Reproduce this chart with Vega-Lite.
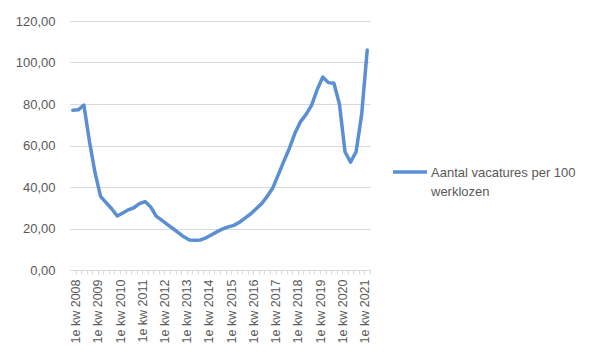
{
  "$schema": "https://vega.github.io/schema/vega-lite/v6.json",
  "width": 300,
  "height": 249,
  "autosize": {"type": "none"},
  "padding": {"left": 70, "top": 21, "right": 229, "bottom": 92},
  "background": "white",
  "config": {"view": {"stroke": null}, "font": "Liberation Sans"},
  "data": {"values": [
    {"kwartaal": "1e kw 2008", "waarde": 77, "reeks": "Aantal vacatures per 100 werklozen"},
    {"kwartaal": "2e kw 2008", "waarde": 77.2, "reeks": "Aantal vacatures per 100 werklozen"},
    {"kwartaal": "3e kw 2008", "waarde": 79.5, "reeks": "Aantal vacatures per 100 werklozen"},
    {"kwartaal": "4e kw 2008", "waarde": 62, "reeks": "Aantal vacatures per 100 werklozen"},
    {"kwartaal": "1e kw 2009", "waarde": 47, "reeks": "Aantal vacatures per 100 werklozen"},
    {"kwartaal": "2e kw 2009", "waarde": 35.5, "reeks": "Aantal vacatures per 100 werklozen"},
    {"kwartaal": "3e kw 2009", "waarde": 32.5, "reeks": "Aantal vacatures per 100 werklozen"},
    {"kwartaal": "4e kw 2009", "waarde": 29.5, "reeks": "Aantal vacatures per 100 werklozen"},
    {"kwartaal": "1e kw 2010", "waarde": 26, "reeks": "Aantal vacatures per 100 werklozen"},
    {"kwartaal": "2e kw 2010", "waarde": 27.5, "reeks": "Aantal vacatures per 100 werklozen"},
    {"kwartaal": "3e kw 2010", "waarde": 29, "reeks": "Aantal vacatures per 100 werklozen"},
    {"kwartaal": "4e kw 2010", "waarde": 30, "reeks": "Aantal vacatures per 100 werklozen"},
    {"kwartaal": "1e kw 2011", "waarde": 32, "reeks": "Aantal vacatures per 100 werklozen"},
    {"kwartaal": "2e kw 2011", "waarde": 33, "reeks": "Aantal vacatures per 100 werklozen"},
    {"kwartaal": "3e kw 2011", "waarde": 30.5, "reeks": "Aantal vacatures per 100 werklozen"},
    {"kwartaal": "4e kw 2011", "waarde": 26, "reeks": "Aantal vacatures per 100 werklozen"},
    {"kwartaal": "1e kw 2012", "waarde": 24, "reeks": "Aantal vacatures per 100 werklozen"},
    {"kwartaal": "2e kw 2012", "waarde": 22, "reeks": "Aantal vacatures per 100 werklozen"},
    {"kwartaal": "3e kw 2012", "waarde": 20, "reeks": "Aantal vacatures per 100 werklozen"},
    {"kwartaal": "4e kw 2012", "waarde": 18, "reeks": "Aantal vacatures per 100 werklozen"},
    {"kwartaal": "1e kw 2013", "waarde": 16, "reeks": "Aantal vacatures per 100 werklozen"},
    {"kwartaal": "2e kw 2013", "waarde": 14.5, "reeks": "Aantal vacatures per 100 werklozen"},
    {"kwartaal": "3e kw 2013", "waarde": 14.3, "reeks": "Aantal vacatures per 100 werklozen"},
    {"kwartaal": "4e kw 2013", "waarde": 14.5, "reeks": "Aantal vacatures per 100 werklozen"},
    {"kwartaal": "1e kw 2014", "waarde": 15.5, "reeks": "Aantal vacatures per 100 werklozen"},
    {"kwartaal": "2e kw 2014", "waarde": 17, "reeks": "Aantal vacatures per 100 werklozen"},
    {"kwartaal": "3e kw 2014", "waarde": 18.5, "reeks": "Aantal vacatures per 100 werklozen"},
    {"kwartaal": "4e kw 2014", "waarde": 19.8, "reeks": "Aantal vacatures per 100 werklozen"},
    {"kwartaal": "1e kw 2015", "waarde": 20.8, "reeks": "Aantal vacatures per 100 werklozen"},
    {"kwartaal": "2e kw 2015", "waarde": 21.5, "reeks": "Aantal vacatures per 100 werklozen"},
    {"kwartaal": "3e kw 2015", "waarde": 23, "reeks": "Aantal vacatures per 100 werklozen"},
    {"kwartaal": "4e kw 2015", "waarde": 25, "reeks": "Aantal vacatures per 100 werklozen"},
    {"kwartaal": "1e kw 2016", "waarde": 27, "reeks": "Aantal vacatures per 100 werklozen"},
    {"kwartaal": "2e kw 2016", "waarde": 29.5, "reeks": "Aantal vacatures per 100 werklozen"},
    {"kwartaal": "3e kw 2016", "waarde": 32, "reeks": "Aantal vacatures per 100 werklozen"},
    {"kwartaal": "4e kw 2016", "waarde": 35.5, "reeks": "Aantal vacatures per 100 werklozen"},
    {"kwartaal": "1e kw 2017", "waarde": 39.5, "reeks": "Aantal vacatures per 100 werklozen"},
    {"kwartaal": "2e kw 2017", "waarde": 46, "reeks": "Aantal vacatures per 100 werklozen"},
    {"kwartaal": "3e kw 2017", "waarde": 52.5, "reeks": "Aantal vacatures per 100 werklozen"},
    {"kwartaal": "4e kw 2017", "waarde": 58.7, "reeks": "Aantal vacatures per 100 werklozen"},
    {"kwartaal": "1e kw 2018", "waarde": 66, "reeks": "Aantal vacatures per 100 werklozen"},
    {"kwartaal": "2e kw 2018", "waarde": 71.5, "reeks": "Aantal vacatures per 100 werklozen"},
    {"kwartaal": "3e kw 2018", "waarde": 75, "reeks": "Aantal vacatures per 100 werklozen"},
    {"kwartaal": "4e kw 2018", "waarde": 79.5, "reeks": "Aantal vacatures per 100 werklozen"},
    {"kwartaal": "1e kw 2019", "waarde": 87, "reeks": "Aantal vacatures per 100 werklozen"},
    {"kwartaal": "2e kw 2019", "waarde": 93, "reeks": "Aantal vacatures per 100 werklozen"},
    {"kwartaal": "3e kw 2019", "waarde": 90.3, "reeks": "Aantal vacatures per 100 werklozen"},
    {"kwartaal": "4e kw 2019", "waarde": 90, "reeks": "Aantal vacatures per 100 werklozen"},
    {"kwartaal": "1e kw 2020", "waarde": 80, "reeks": "Aantal vacatures per 100 werklozen"},
    {"kwartaal": "2e kw 2020", "waarde": 57, "reeks": "Aantal vacatures per 100 werklozen"},
    {"kwartaal": "3e kw 2020", "waarde": 52, "reeks": "Aantal vacatures per 100 werklozen"},
    {"kwartaal": "4e kw 2020", "waarde": 57, "reeks": "Aantal vacatures per 100 werklozen"},
    {"kwartaal": "1e kw 2021", "waarde": 75, "reeks": "Aantal vacatures per 100 werklozen"},
    {"kwartaal": "2e kw 2021", "waarde": 106, "reeks": "Aantal vacatures per 100 werklozen"}
  ]},
  "mark": {"type": "line", "strokeWidth": 3.5, "strokeJoin": "round", "strokeCap": "round"},
  "encoding": {
    "x": {
      "field": "kwartaal", "type": "ordinal", "sort": null,
      "scale": {"type": "point", "padding": 0.5},
      "axis": {
        "title": null, "labelAngle": -90,
        "labelExpr": "indexof(datum.value, '1e') === 0 ? datum.value : ''",
        "tickSize": 4, "tickColor": "#d9d9d9", "tickOffset": 2.78,
        "domainColor": "#d9d9d9", "labelFontSize": 12.5, "labelColor": "#595959",
        "labelPadding": 5, "grid": false, "labelOverlap": false
      }
    },
    "y": {
      "field": "waarde", "type": "quantitative",
      "scale": {"domain": [0, 120]},
      "axis": {
        "title": null, "values": [0, 20, 40, 60, 80, 100, 120],
        "labelExpr": "replace(format(datum.value, '.2f'), '.', ',')",
        "domain": false, "ticks": false, "gridColor": "#d9d9d9",
        "labelPadding": 15, "labelFontSize": 13, "labelColor": "#595959"
      }
    },
    "color": {
      "field": "reeks", "type": "nominal",
      "scale": {"range": ["#5B8FD3"]},
      "legend": {
        "orient": "none", "legendX": 321, "legendY": 132, "title": null,
        "symbolType": "stroke", "symbolStrokeWidth": 3.5, "symbolSize": 1156,
        "labelFontSize": 13, "labelColor": "#595959", "labelLimit": 220,
        "labelBaseline": "alphabetic", "labelOffset": 2,
        "labelExpr": "['Aantal vacatures per 100', 'werklozen']",
        "encoding": {"labels": {"lineHeight": {"value": 19}, "dy": {"value": 5}}}
      }
    }
  }
}
